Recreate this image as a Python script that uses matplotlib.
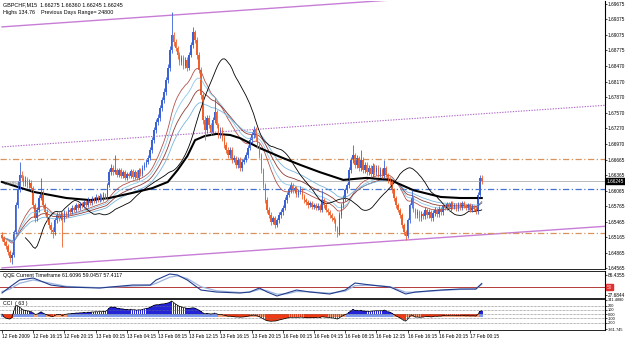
import numpy as np
import pandas as pd
import matplotlib
matplotlib.use("Agg")
import matplotlib.pyplot as plt
import matplotlib.transforms as mtrans

plt.rcParams["font.family"] = ["Liberation Sans", "DejaVu Sans"]

# ------------------------------------------------------------------ data
symbol_info = "GBPCHF,M15  1.66275 1.66360 1.66245 1.66245"
info_line2 = "Highs 134.76    Previous Days Range= 24800"
qqe_title = "QQE Current Timeframe 61.6096 59.0457 57.4117"
cci_title = "CCI  ( 63 )"

BASE = 1.6          # prices below are in pips above 1.6000
first_open_pips = 520
close_pips = [
    515, 507, 499, 488, 476, 482, 526, 578, 608, 637,
    631, 621, 627, 617, 621, 611, 578, 553, 569, 592,
    604, 578, 565, 553, 540, 530, 526, 549, 559, 553,
    561, 549, 563, 559, 569, 565, 573, 569, 578, 573,
    580, 577, 584, 578, 588, 582, 590, 586, 594, 588,
    596, 590, 598, 594, 617, 642, 650, 642, 646, 637,
    646, 635, 642, 631, 638, 635, 644, 633, 642, 631,
    646, 638, 650, 656, 662, 669, 685, 704, 724, 739,
    747, 766, 782, 797, 820, 844, 878, 907, 894, 882,
    869, 855, 863, 848, 859, 844, 869, 888, 913, 898,
    869, 840, 791, 743, 724, 747, 733, 720, 743, 758,
    733, 714, 724, 708, 695, 685, 675, 685, 666, 669,
    656, 666, 650, 662, 666, 675, 689, 704, 714, 724,
    708, 695, 675, 646, 617, 588, 569, 559, 546, 553,
    540, 549, 559, 565, 573, 588, 598, 607, 617, 607,
    611, 598, 604, 607, 596, 588, 584, 578, 582, 575,
    578, 573, 577, 569, 588, 578, 569, 565, 559, 553,
    549, 534, 526, 559, 578, 592, 607, 617, 646, 666,
    675, 656, 669, 650, 666, 646, 656, 642, 650, 638,
    654, 642, 650, 637, 646, 635, 650, 637, 627, 623,
    607, 592, 578, 569, 559, 540, 526, 518, 549, 578,
    592, 569, 559, 565, 553, 561, 557, 569, 559, 565,
    553, 563, 569, 561, 571, 565, 577, 573, 580, 571,
    582, 575, 578, 571, 580, 573, 582, 577, 573, 578,
    569, 575, 571, 567, 598, 631, 624.5]
high_pips = [
    526, 519, 511, 503, 492, 488, 530, 585, 625, 661,
    645, 636, 634, 632, 628, 626, 615, 582, 574, 598,
    630, 608, 583, 570, 557, 545, 536, 554, 564, 565,
    567, 565, 568, 567, 574, 573, 578, 577, 583, 582,
    585, 584, 589, 588, 593, 591, 595, 594, 599, 598,
    601, 600, 603, 602, 622, 648, 658, 655, 675, 650,
    651, 650, 647, 646, 643, 642, 649, 648, 647, 646,
    651, 650, 655, 661, 667, 675, 691, 710, 730, 745,
    754, 772, 788, 804, 827, 851, 886, 952, 913, 899,
    887, 874, 869, 868, 865, 864, 875, 894, 923, 918,
    903, 874, 845, 796, 750, 753, 752, 738, 748, 786,
    763, 738, 730, 729, 713, 700, 690, 691, 690, 675,
    674, 672, 671, 668, 672, 681, 695, 710, 720, 732,
    729, 713, 700, 680, 651, 622, 593, 574, 564, 558,
    557, 554, 564, 570, 578, 593, 603, 613, 623, 621,
    616, 615, 609, 615, 612, 600, 592, 589, 587, 586,
    583, 582, 582, 581, 607, 592, 582, 573, 569, 563,
    557, 553, 538, 564, 583, 597, 612, 622, 652, 672,
    695, 680, 675, 674, 685, 671, 662, 661, 656, 655,
    660, 658, 656, 655, 652, 650, 665, 654, 641, 632,
    627, 611, 596, 582, 573, 563, 544, 530, 554, 583,
    607, 596, 573, 570, 569, 566, 565, 574, 573, 570,
    569, 568, 574, 573, 576, 575, 582, 581, 585, 584,
    587, 586, 583, 582, 585, 584, 587, 586, 581, 583,
    582, 580, 579, 575, 603, 637, 636]
low_pips = [
    509, 502, 494, 481, 468, 465, 478, 522, 573, 603,
    624, 615, 616, 611, 612, 605, 572, 545, 548, 564,
    588, 572, 560, 548, 534, 524, 515, 521, 544, 548,
    549, 497, 545, 554, 555, 560, 561, 564, 565, 568,
    569, 572, 573, 574, 575, 578, 578, 582, 582, 584,
    585, 586, 587, 590, 591, 613, 637, 637, 638, 632,
    633, 630, 631, 626, 627, 630, 631, 628, 629, 626,
    627, 634, 634, 646, 652, 658, 665, 680, 699, 718,
    733, 742, 760, 776, 791, 815, 838, 872, 887, 876,
    862, 849, 850, 842, 843, 838, 839, 864, 883, 892,
    862, 833, 783, 735, 704, 718, 727, 713, 715, 738,
    727, 708, 709, 702, 689, 679, 669, 670, 660, 661,
    650, 651, 644, 645, 657, 661, 670, 684, 699, 709,
    702, 689, 669, 640, 611, 582, 563, 553, 540, 541,
    534, 535, 544, 554, 560, 568, 583, 593, 602, 602,
    602, 593, 593, 599, 591, 583, 579, 573, 574, 570,
    571, 568, 569, 564, 565, 573, 564, 560, 554, 548,
    543, 528, 517, 521, 554, 573, 587, 602, 612, 640,
    660, 650, 651, 645, 645, 640, 641, 637, 637, 633,
    633, 637, 637, 632, 632, 630, 630, 632, 622, 618,
    602, 587, 573, 564, 554, 534, 520, 511, 514, 544,
    573, 564, 553, 554, 548, 548, 551, 552, 554, 554,
    547, 548, 558, 556, 556, 560, 560, 568, 568, 566,
    566, 570, 570, 566, 566, 568, 568, 572, 568, 568,
    564, 564, 566, 562, 562, 594, 620]

# long moving average (thick black)
ma_long_idx = [0, 16, 33, 45, 55, 67, 77, 85, 90, 95, 99, 104, 110, 117, 122,
               132, 143, 153, 163, 175, 187, 199, 211, 225, 235, 246]
ma_long_pips = [623, 604, 592, 588, 592, 602, 611, 623, 646, 673, 704, 712, 716,
                714, 708, 689, 671, 656, 642, 627, 631, 627, 607, 594, 592, 592]

# trend channel (bar index -> price)
channel_idx = [0, 309]
channel_upper = [1.69232, 1.70037]
channel_mid = [1.66909, 1.67714]
channel_lower = [1.64567, 1.65372]

level_orange = [1.6667, 1.6524]
level_blue = 1.6609
level_blue_label = "1.66094"
bid_price = 1.66245

price_tick_labels = ["1.69675", "1.69375", "1.69075", "1.68775", "1.68470",
                     "1.68170", "1.67870", "1.67570", "1.67270", "1.66970",
                     "1.66665", "1.66365", "1.66065", "1.65765", "1.65465",
                     "1.65165", "1.64865", "1.64565"]
time_tick_labels = ["12 Feb 2009", "12 Feb 16:15", "12 Feb 20:15", "13 Feb 00:15",
                    "13 Feb 04:15", "13 Feb 08:15", "13 Feb 12:15", "13 Feb 16:15",
                    "13 Feb 20:15", "16 Feb 00:15", "16 Feb 04:15", "16 Feb 08:15",
                    "16 Feb 12:15", "16 Feb 16:15", "16 Feb 20:15", "17 Feb 00:15"]
time_tick_step = 16   # bars between time labels (4 h of M15)

qqe_idx = [0, 4, 9, 16, 25, 33, 50, 67, 76, 79, 86, 90, 95, 102, 110, 122, 127,
           132, 136, 141, 146, 151, 158, 168, 176, 181, 189, 199, 207, 212, 225,
           235, 243, 246]
qqe_fast = [33.5, 51.1, 71.7, 77.6, 57.0, 51.1, 48.2, 57.0, 57.0, 71.7, 89.4, 86.4,
            71.7, 42.3, 36.4, 33.5, 36.4, 48.2, 36.4, 24.7, 33.5, 42.3, 36.4, 30.6,
            42.3, 62.9, 57.0, 51.1, 30.6, 36.4, 42.3, 45.3, 45.3, 61.6]
qqe_slow = [38, 45, 62, 72, 62, 53, 49, 54, 56, 62, 80, 84, 76, 52, 40, 35, 36, 44,
            40, 30, 31, 38, 37, 33, 39, 55, 57, 52, 36, 36, 41, 44, 45, 59]
qqe_max, qqe_min, qqe_level = 86.4355, 27.6844, 50

cci_period = 63
cci_levels = [200, 100, 0, -100, -200]
cci_max, cci_min = 341.4880, -361.745

# ------------------------------------------------------------------ derived series
close = BASE + np.array(close_pips, float) / 1e4
high = BASE + np.array(high_pips, float) / 1e4
low = BASE + np.array(low_pips, float) / 1e4
opn = np.concatenate([[BASE + first_open_pips / 1e4], close[:-1]])
n = len(close)
idx = np.arange(n)

cs = pd.Series(close)
ema_specs = [(20, "#B5524A"), (26, "#8CC8EA"), (34, "#8E3B36"), (44, "#79B4DC")]
sma_short = cs.rolling(20, min_periods=1).mean().to_numpy()
shift = 12

tp = pd.Series((high + low + close) / 3)
sma_tp = tp.rolling(cci_period, min_periods=1).mean()
md = tp.rolling(cci_period, min_periods=1).apply(lambda w: np.mean(np.abs(w - w.mean())), raw=True)
cci = ((tp - sma_tp) / (0.015 * md.replace(0, np.nan))).fillna(0).to_numpy()

# ------------------------------------------------------------------ figure
W, H = 625, 341
fig = plt.figure(figsize=(W / 100, H / 100), dpi=100)
fig.patch.set_facecolor("white")


def box(x0, y0, x1, y1):
    return [x0 / W, 1 - y1 / H, (x1 - x0) / W, (y1 - y0) / H]


ax = fig.add_axes(box(0, 1, 605, 269))
axq = fig.add_axes(box(0, 271, 605, 298))
axc = fig.add_axes(box(0, 299, 605, 330))

XL = (-1.03, 309.2)
FS = 3.4
for a in (ax, axq, axc):
    a.set_xlim(*XL)
    a.set_facecolor("white")
    a.yaxis.tick_right()
    a.tick_params(axis="x", bottom=False, labelbottom=False)
    a.tick_params(axis="y", labelsize=FS, length=1.5, width=0.5, pad=0.6,
                  direction="out", colors="black")
    a.spines["left"].set_visible(False)
    a.spines["right"].set_color("black")
    a.spines["right"].set_linewidth(0.8)
    for s in ("top", "bottom"):
        a.spines[s].set_color("#000000")
        a.spines[s].set_linewidth(0.6)
ax.spines["top"].set_visible(False)

# ---- main price panel
ax.set_ylim(1.64546, 1.69733)

# channel
ax.plot(channel_idx, channel_upper, color="#C77DD6", lw=1.0)
ax.plot(channel_idx, channel_lower, color="#C77DD6", lw=1.0)
ax.plot(channel_idx, channel_mid, color="#B26AC8", lw=0.8, ls=(0, (1.2, 1.2)))

# levels
for lv in level_orange:
    ax.axhline(lv, color="#D8935E", lw=0.9, ls=(0, (5, 2, 1, 2)))
ax.axhline(level_blue, color="#4573D2", lw=0.9, ls=(0, (5, 2, 1, 2)))
ax.axhline(bid_price, color="#B0B0B0", lw=0.6)
ax.text(1, level_blue + 0.0006, level_blue_label, fontsize=3.2, color="#555555",
        va="bottom", ha="left")

# moving averages
for span, col in ema_specs:
    ax.plot(idx, cs.ewm(span=span, adjust=False).mean(), color=col, lw=0.6)
sidx = idx + shift
m = sidx < n
ax.plot(sidx[m], sma_short[m], color="black", lw=0.6)
ax.plot(ma_long_idx, BASE + np.array(ma_long_pips) / 1e4, color="black", lw=1.5)

# candles
bull = close >= opn
cols = np.where(bull, "#3A62D6", "#F0602A")
ax.vlines(idx, low, high, colors=cols, lw=0.6)
body_h = np.maximum(np.abs(close - opn), 0.00004)
ax.bar(idx, body_h, bottom=np.minimum(opn, close), width=0.8, color=cols, linewidth=0)

ax.set_yticks([float(s) for s in price_tick_labels])
ax.set_yticklabels(price_tick_labels)
tr = mtrans.blended_transform_factory(ax.transAxes, ax.transData)
ax.text(1.003, bid_price, f"{bid_price:.5f}", transform=tr, fontsize=FS, color="white",
        va="center", ha="left", clip_on=False,
        bbox=dict(boxstyle="square,pad=0.1", fc="black", ec="black"))

ax.text(0.005, 0.997, symbol_info, transform=ax.transAxes, fontsize=3.9, va="top", ha="left")
ax.text(0.005, 0.965, info_line2, transform=ax.transAxes, fontsize=3.9, va="top", ha="left")

# ---- QQE panel
axq.set_ylim(18.87, 98.19)
axq.axhline(qqe_level, color="#B33A3A", lw=0.7)
axq.plot(qqe_idx, qqe_slow, color="#9DB3DD", lw=0.9)
axq.plot(qqe_idx, qqe_fast, color="#223C8C", lw=0.8)
axq.set_yticks([qqe_max, qqe_min])
axq.set_yticklabels([f"{qqe_max:.4f}", f"{qqe_min:.4f}"])
trq = mtrans.blended_transform_factory(axq.transAxes, axq.transData)
axq.text(1.003, qqe_level, f"{qqe_level}", transform=trq, fontsize=FS, color="#FFD0D0",
         va="center", ha="left", clip_on=False,
         bbox=dict(boxstyle="square,pad=0.1", fc="#E03030", ec="#E03030"))
axq.text(0.005, 0.93, qqe_title, transform=axq.transAxes, fontsize=3.8, va="top", ha="left")

# ---- CCI panel
axc.set_ylim(-375, 355)
for lv in cci_levels:
    axc.axhline(lv, color="#707070", lw=0.5, ls=(0, (1, 1)))
ccol = np.where(cci >= 0, "#2323D8", "#F03A14")
axc.bar(idx, -60 * np.ones(n), bottom=0, width=1.0,
        color=np.where(cci >= 0, "#7F9BF0", "#F5A27E"), linewidth=0)
axc.bar(idx, cci, width=0.8, color=ccol, linewidth=0)
axc.plot(idx, cci, color="black", lw=0.5)
axc.set_yticks([cci_max] + cci_levels + [cci_min])
axc.set_yticklabels([f"{cci_max:.4f}", "200", "100", "0.00", "-100", "-200", f"{cci_min:.3f}"])
axc.tick_params(axis="y", labelsize=2.8, pad=0.5)
axc.text(0.005, 0.95, cci_title, transform=axc.transAxes, fontsize=3.8, va="top", ha="left")

tick_pos = [k * time_tick_step for k in range(len(time_tick_labels))]
axc.set_xticks(tick_pos)
axc.set_xticklabels(time_tick_labels, fontsize=3.5, ha="left")
axc.tick_params(axis="x", bottom=True, labelbottom=True, length=2, width=0.5, pad=1)

fig.savefig("out.png", dpi=100, facecolor="white")
